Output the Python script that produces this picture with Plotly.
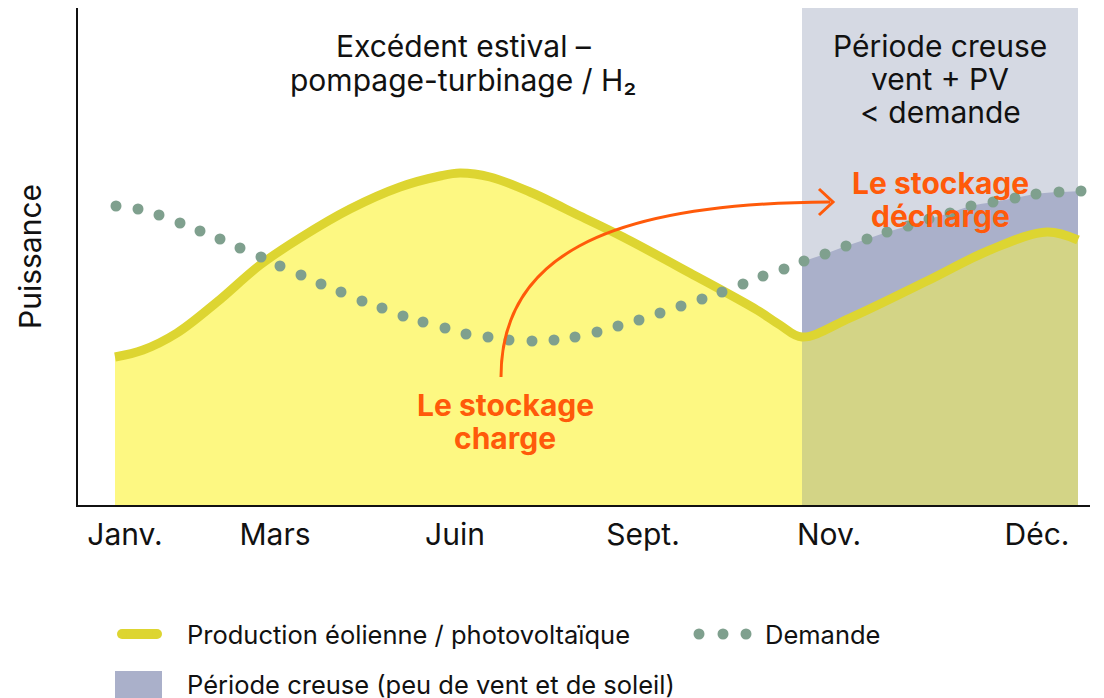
import numpy as np
import plotly.graph_objects as go

# ---- Data (arbitrary units: x = time along the year, y = power) ----
month_labels = ["Janv.", "Mars", "Juin", "Sept.", "Nov.", "Déc."]
month_pos = [47, 197, 377, 565, 751, 959]

prod_x = [37, 65, 99, 139, 182, 222, 272, 322, 362, 382, 412, 452, 502, 545, 612, 679, 702, 724, 772, 849, 912, 969, 1000]
prod_y = [148, 155, 172, 203, 240, 267, 296, 318, 329, 332, 328, 313, 289, 268, 232, 195, 180, 168, 187, 224, 255, 273, 265]

demand_x = [38, 60, 81, 102, 122, 142, 162, 183, 202, 223, 243, 263, 284, 304, 325, 345,
            367, 388, 410, 431, 454, 476, 497, 519, 540, 561, 582, 603, 624, 644, 665, 685,
            706, 726, 747, 768, 789, 809, 830, 851, 872, 893, 915, 937, 958, 981, 1003]
demand_y = [299, 296, 290, 282, 274, 266, 257, 248, 239, 230, 221, 213, 204, 197, 189, 183,
            177, 171, 168, 165, 164, 165, 168, 173, 179, 185, 192, 199, 206, 213, 221, 229,
            236, 244, 251, 259, 266, 273, 279, 286, 292, 299, 303, 307, 311, 313, 314]

low_period = [724, 1000]   # période creuse (Nov. -> Déc.)

# ---- Styles ----
FONT = "Inter"
C_TXT = "#111111"
C_FILL = "#FDF882"
C_LINE = "#DDD531"
C_BG = "#D5D9E3"
C_PURPLE = "#AAB0CA"
C_OLIVE = "#D3D486"
C_DEM = "#7FA08E"
C_ORANGE = "#FF5A0A"

W, H = 1104, 698
L, R, T, B = 70, 22, 0, 201
XR = [0, W - L - R]
YR = [0, H - T - B]
OFF = 8  # page offset of the figure div

def px(xp):
    return (xp - OFF - L) / (W - L - R)

def py(yp):
    return (H - B + OFF - yp) / (H - T - B)

fig = go.Figure()

fig.add_trace(go.Scatter(x=prod_x, y=prod_y, mode="lines", line=dict(width=0, shape="spline", color=C_FILL),
                         fill="tozeroy", fillcolor=C_FILL, hoverinfo="skip", showlegend=False))

dx = np.array(demand_x, float); dy = np.array(demand_y, float)
m = (dx > low_period[0]) & (dx < low_period[1])
fdx = np.concatenate([[low_period[0]], dx[m], [low_period[1]]])
fdy = np.concatenate([[np.interp(low_period[0], dx, dy)], dy[m], [np.interp(low_period[1], dx, dy)]])
fig.add_trace(go.Scatter(x=fdx, y=fdy, mode="lines", line=dict(width=0, shape="spline", color=C_PURPLE),
                         fill="tozeroy", fillcolor=C_PURPLE, hoverinfo="skip", showlegend=False))

pxa = np.array(prod_x, float); pya = np.array(prod_y, float)
mp = pxa >= low_period[0]
fig.add_trace(go.Scatter(x=pxa[mp], y=pya[mp], mode="lines", line=dict(width=0, shape="spline", color=C_OLIVE),
                         fill="tozeroy", fillcolor=C_OLIVE, hoverinfo="skip", showlegend=False))

fig.add_trace(go.Scatter(x=prod_x, y=prod_y, mode="lines", line=dict(width=9, shape="spline", color=C_LINE),
                         name="Production éolienne / photovoltaïque", showlegend=False))

fig.add_trace(go.Scatter(x=demand_x, y=demand_y, mode="markers",
                         marker=dict(size=11, color=C_DEM, line=dict(width=0)),
                         name="Demande", showlegend=False))

shapes = []
shapes.append(dict(type="rect", xref="x", yref="paper", x0=low_period[0], x1=low_period[1], y0=0, y1=1,
                   fillcolor=C_BG, line=dict(width=0), layer="below"))
shapes.append(dict(type="path", xref="x", yref="y",
                   path="M 423,128 C 423,245 522,302 752,303",
                   line=dict(color=C_ORANGE, width=3)))
shapes.append(dict(type="path", xref="x", yref="y",
                   path="M 741,316 L 755,303 L 741,290",
                   line=dict(color=C_ORANGE, width=3)))

# manual legend symbols (page pixel positions)
ly1, ly2 = 634, 684
shapes.append(dict(type="line", xref="paper", yref="paper", x0=px(122), x1=px(157), y0=py(ly1), y1=py(ly1),
                   line=dict(color=C_LINE, width=10)))
for cx in (122, 157):
    shapes.append(dict(type="circle", xref="paper", yref="paper", x0=px(cx - 5), x1=px(cx + 5),
                       y0=py(ly1 - 5), y1=py(ly1 + 5), fillcolor=C_LINE, line=dict(width=0)))
for cx in (699, 723, 746):
    shapes.append(dict(type="circle", xref="paper", yref="paper", x0=px(cx - 5.5), x1=px(cx + 5.5),
                       y0=py(ly1 - 5.5), y1=py(ly1 + 5.5), fillcolor=C_DEM, line=dict(width=0)))
shapes.append(dict(type="rect", xref="paper", yref="paper", x0=px(115), x1=px(162), y0=py(705), y1=py(671),
                   fillcolor=C_PURPLE, line=dict(width=0)))

annotations = []

def text_line(xc, yc, txt, size, color=C_TXT, bold=False, anchor="center"):
    t = f"<b>{txt}</b>" if bold else txt
    annotations.append(dict(x=px(xc), y=py(yc), xref="paper", yref="paper", text=t, showarrow=False,
                            xanchor=anchor, yanchor="middle", font=dict(family=FONT, size=size, color=color)))

text_line(463, 46, "Excédent estival –", 30)
text_line(463, 80, "pompage-turbinage / H₂", 30)
text_line(940, 46, "Période creuse", 30)
text_line(940, 79, "vent + PV", 30)
text_line(940, 112, "&lt; demande", 30)
text_line(505, 405, "Le stockage", 30, C_ORANGE, True)
text_line(505, 438, "charge", 30, C_ORANGE, True)
text_line(940, 183, "Le stockage", 30, C_ORANGE, True)
text_line(940, 216, "décharge", 30, C_ORANGE, True)
text_line(185, ly1, "Production éolienne / photovoltaïque", 25.5, anchor="left")
text_line(763, ly1, "Demande", 25.5, anchor="left")
text_line(185, ly2, "Période creuse (peu de vent et de soleil)", 25.5, anchor="left")

fig.update_layout(
    width=W, height=H,
    margin=dict(l=L, r=R, t=T, b=B),
    paper_bgcolor="white", plot_bgcolor="white",
    shapes=shapes, annotations=annotations,
    showlegend=False,
    font=dict(family=FONT, color=C_TXT),
)
fig.update_xaxes(range=XR, showgrid=False, zeroline=False, showline=True, linecolor=C_TXT, linewidth=2,
                 tickvals=month_pos, ticktext=month_labels, ticks="",
                 tickfont=dict(family=FONT, size=30, color=C_TXT),
                 ticklabelstandoff=2, fixedrange=True)
fig.update_yaxes(range=YR, showgrid=False, zeroline=False, showline=True, linecolor=C_TXT, linewidth=2,
                 showticklabels=False, ticks="",
                 title=dict(text="Puissance", font=dict(family=FONT, size=30, color=C_TXT), standoff=26),
                 fixedrange=True)

fig.write_html("out.html")
